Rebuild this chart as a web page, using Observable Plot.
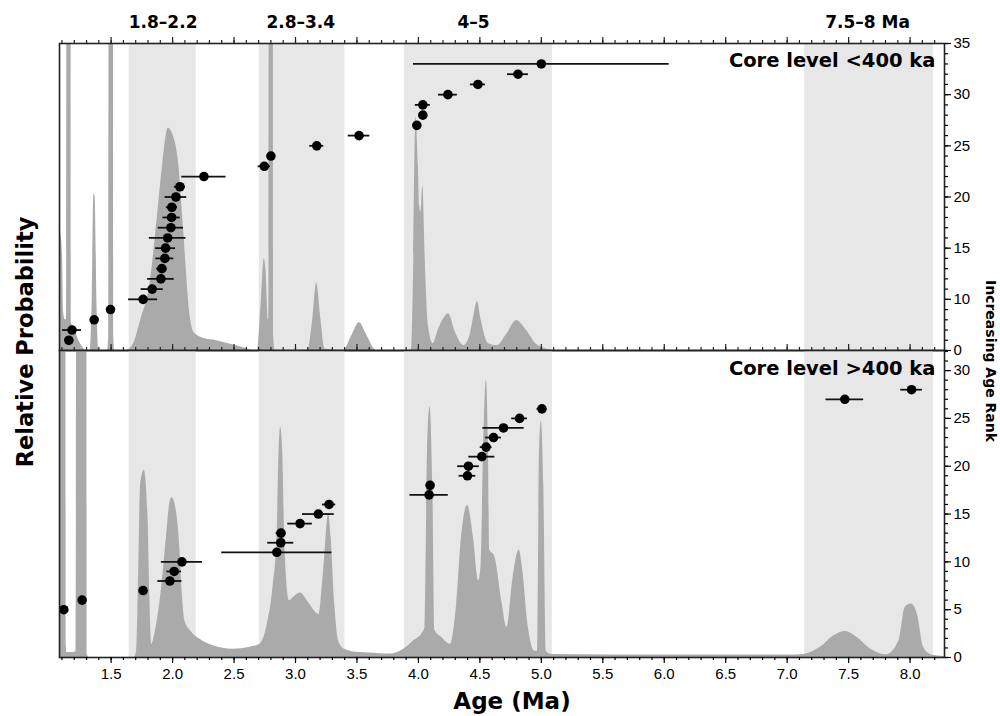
<!DOCTYPE html>
<html><head><meta charset="utf-8">
<script src="https://cdn.jsdelivr.net/npm/d3@7"></script>
<script src="https://cdn.jsdelivr.net/npm/@observablehq/plot@0.6"></script>
<style>
body{margin:0;background:#fff;}
#wrap{position:relative;width:1000px;height:716px;overflow:hidden;background:#fff;}
#top,#bot{position:absolute;left:0;}
#top{top:0;} #bot{top:350px;}
.lab{position:absolute;font-family:"DejaVu Sans",sans-serif;font-weight:bold;color:#000;white-space:nowrap;line-height:1;}
#ylab{left:25px;top:342px;font-size:22.5px;transform:translate(-50%,-50%) rotate(-90deg);}
#rlab{left:991px;top:361px;font-size:14px;transform:translate(-50%,-50%) rotate(90deg);}
#xlab{left:512px;top:701px;font-size:23px;transform:translate(-50%,-50%);}
</style></head><body>
<div id="wrap">
<div id="top"></div><div id="bot"></div>
<div class="lab" id="ylab">Relative Probability</div>
<div class="lab" id="rlab">Increasing Age Rank</div>
<div class="lab" id="xlab">Age (Ma)</div>
</div>
<script>
// ---------- data ----------
const xDomain = [1.08, 8.28];
const bandStart = [1.647, 2.705, 3.886, 7.143];
const bandEnd   = [2.192, 3.402, 5.09, 8.19];
const bandLabel = ["1.8–2.2", "2.8–3.4", "4–5", "7.5–8 Ma"];
const bandLabelAge = [1.923, 3.043, 4.448, 7.654];

const majorX = [1.5, 2.0, 2.5, 3.0, 3.5, 4.0, 4.5, 5.0, 5.5, 6.0, 6.5, 7.0, 7.5, 8.0];
const minorX = d3.range(11, 83).map(d => d / 10);

const topRankTicks  = [5, 10, 15, 20, 25, 30, 35];
const topRankLabels = ["0", "10", "15", "20", "25", "30", "35"];
const topRankMinor  = d3.range(5, 36);
const botRankTicks  = [0, 5, 10, 15, 20, 25, 30];
const botRankMinor  = d3.range(0, 33);

// Core level <400 ka : dated samples
const topRank = [6,7,8,9,10,11,12,13,14,15,16,17,18,19,20,21,22,23,24,25,26,27,28,29,30,31,32,33];
const topAge  = [1.156,1.182,1.362,1.495,1.76,1.834,1.905,1.913,1.937,1.943,1.96,1.986,1.992,1.994,2.027,2.06,2.255,2.746,2.80,3.173,3.517,3.987,4.036,4.036,4.24,4.484,4.81,5.0];
const topErr  = [0,0.077,0,0,0.118,0.09,0.108,0.043,0.073,0.081,0.149,0.103,0.07,0.045,0.088,0.045,0.18,0.05,0,0.057,0.088,0,0,0.061,0.077,0.061,0.085,1.04];

// Core level >400 ka : dated samples
const botRank = [5,6,7,8,9,10,11,12,13,14,15,16,17,18,19,20,21,22,23,24,25,26,27,28];
const botAge  = [1.115,1.264,1.76,1.978,2.013,2.076,2.848,2.88,2.882,3.037,3.186,3.273,4.087,4.095,4.399,4.407,4.516,4.551,4.611,4.692,4.823,5.005,7.469,8.012];
const botErr  = [0,0,0.03,0.098,0.06,0.167,0.448,0.106,0.04,0.1,0.129,0.054,0.156,0,0.068,0.088,0.106,0.048,0.064,0.168,0.064,0.04,0.153,0.088];

// relative probability curves (fraction of panel height; >1 runs off the top)
const topDensAge = [1.08,1.095,1.105,1.115,1.125,1.134,1.138,1.142,1.172,1.176,1.19,1.21,1.24,1.27,1.30,1.33,1.345,1.36,1.37,1.385,1.40,1.47,1.481,1.485,1.517,1.521,1.53,1.60,1.65,1.68,1.74,1.82,1.875,1.92,1.965,2.0,2.05,2.09,2.14,2.18,2.25,2.36,2.47,2.57,2.66,2.69,2.72,2.746,2.76,2.78,2.784,2.787,2.818,2.822,2.835,3.10,3.14,3.172,3.207,3.24,3.39,3.46,3.52,3.58,3.66,3.94,3.946,3.96,3.98,4.0,4.01,4.02,4.036,4.055,4.083,4.12,4.16,4.2,4.245,4.3,4.37,4.42,4.45,4.48,4.51,4.57,4.64,4.72,4.80,4.88,4.96,5.04,5.10,8.28];
const topDensP   = [0.40,0.37,0.30,0.12,0.10,0.10,0.10,3,3,0.09,0.08,0.06,0.03,0.01,0,0,0.15,0.51,0.50,0.15,0,0,0.05,3,3,0.05,0,0,0.005,0.02,0.097,0.227,0.43,0.607,0.724,0.705,0.607,0.39,0.12,0.055,0.04,0.032,0.02,0.01,0,0,0.15,0.30,0.26,0.10,0.1,3,3,0.05,0,0,0.10,0.22,0.10,0.005,0,0.05,0.09,0.05,0,0,0.016,0.24,0.76,0.6,0.47,0.45,0.537,0.30,0.077,0.022,0.065,0.10,0.12,0.06,0.016,0.05,0.11,0.16,0.10,0.022,0.016,0.054,0.098,0.065,0.02,0.005,0,0];

const botDensAge = [1.08,1.128,1.135,1.14,1.20,1.215,1.224,1.299,1.306,1.32,1.69,1.707,1.725,1.74,1.77,1.80,1.815,1.83,1.855,1.909,1.95,1.977,1.996,2.02,2.06,2.08,2.10,2.15,2.22,2.33,2.49,2.63,2.71,2.765,2.82,2.85,2.866,2.88,2.896,2.915,2.95,2.996,3.04,3.104,3.158,3.19,3.23,3.27,3.29,3.32,3.35,3.40,3.525,3.6,3.77,3.88,3.96,4.03,4.055,4.074,4.095,4.117,4.136,4.19,4.26,4.31,4.35,4.40,4.448,4.49,4.51,4.53,4.553,4.57,4.58,4.62,4.68,4.72,4.77,4.82,4.85,4.89,4.95,4.97,4.985,5.0,5.02,5.04,5.08,6.0,7.0,7.135,7.27,7.38,7.475,7.57,7.68,7.81,7.91,7.96,8.01,8.06,8.11,8.17,8.28];
const botDensP   = [3,3,0.04,0.016,0.016,0.02,3,3,0.01,0,0,0.022,0.3,0.565,0.61,0.46,0.2,0.043,0.076,0.22,0.39,0.50,0.52,0.50,0.35,0.2,0.12,0.085,0.06,0.038,0.027,0.033,0.043,0.098,0.24,0.39,0.67,0.75,0.67,0.35,0.185,0.20,0.21,0.18,0.15,0.14,0.29,0.47,0.39,0.17,0.054,0.027,0.016,0.015,0.011,0.027,0.054,0.078,0.1,0.67,0.817,0.565,0.087,0.065,0.043,0.17,0.39,0.495,0.39,0.25,0.30,0.67,0.905,0.67,0.35,0.33,0.18,0.098,0.26,0.35,0.28,0.11,0.02,0.02,0.67,0.77,0.56,0.02,0.01,0.008,0.008,0.01,0.033,0.071,0.085,0.065,0.027,0.009,0.055,0.163,0.174,0.14,0.033,0.009,0.003];

// ---------- tables ----------
const bands = bandStart.map((s, i) => ({s, e: bandEnd[i], t: bandLabel[i], a: bandLabelAge[i]}));
const topPts = topAge.map((a, i) => ({a, r: topRank[i], e: topErr[i]}));
const botPts = botAge.map((a, i) => ({a, r: botRank[i], e: botErr[i]}));
const topDens = topDensAge.map((a, i) => ({a, p: topDensP[i]}));
const botDens = botDensAge.map((a, i) => ({a, p: botDensP[i]}));

// ---------- layout ----------
const W = 1000, ML = 59, MR = 56;
const topH = 350, topMT = 43, topInner = topH - topMT;
const botH = 366, botMB = 59;
const topLo = 5, topHi = 35, botHi = 32.1;
const BAND = "#e7e7e7", DENS = "#aaaaaa", INK = "#111";
const style = {fontFamily: "'Liberation Sans', Arial, sans-serif", fontSize: "15px", background: "transparent", overflow: "visible", color: "#000"};
const boldFont = "DejaVu Sans";

const topPlot = Plot.plot({
  width: W, height: topH, marginLeft: ML, marginRight: MR, marginTop: topMT, marginBottom: 0,
  style,
  x: {domain: xDomain, axis: null},
  y: {domain: [topLo, topHi]},
  marks: [
    Plot.rect(bands, {x1: "s", x2: "e", fill: BAND}),
    Plot.areaY(topDens, {x: "a", y1: topLo, y2: d => topLo + d.p * (topHi - topLo), fill: DENS, curve: "monotone-x", clip: true}),
    Plot.ruleY(topPts.filter(d => d.e > 0), {y: "r", x1: d => d.a - d.e, x2: d => d.a + d.e, stroke: INK, strokeWidth: 1.8}),
    Plot.dot(topPts, {x: "a", y: "r", r: 4.8, fill: "#000"}),
    Plot.frame({stroke: "#222", strokeWidth: 1.6}),
    Plot.tickX(majorX, {insetTop: -6, insetBottom: topInner, stroke: "#222", strokeWidth: 1.2}),
    Plot.tickX(minorX, {insetTop: -3, insetBottom: topInner, stroke: "#222", strokeWidth: 1.2}),
    Plot.tickX(majorX, {insetTop: topInner - 6, stroke: "#222", strokeWidth: 1.2}),
    Plot.tickX(minorX, {insetTop: topInner - 3, stroke: "#222", strokeWidth: 1.2}),
    Plot.axisY({anchor: "right", ticks: topRankTicks, tickSize: 6, tickPadding: 3, label: null, strokeWidth: 1.2,
      tickFormat: d => topRankLabels[topRankTicks.indexOf(d)]}),
    Plot.axisY({anchor: "right", ticks: topRankMinor, tickSize: 3, label: null, strokeWidth: 1.2, tickFormat: () => ""}),
    Plot.text(bands, {x: "a", text: "t", frameAnchor: "top", dy: -28, fontFamily: boldFont, fontWeight: "bold", fontSize: 17, fill: "#000"}),
    Plot.text(["Core level <400 ka"], {text: d => d, frameAnchor: "top-right", textAnchor: "end", lineAnchor: "top", dx: -9, dy: 10,
      fontFamily: boldFont, fontWeight: "bold", fontSize: 19.5, fill: "#000"})
  ]
});

const botPlot = Plot.plot({
  width: W, height: botH, marginLeft: ML, marginRight: MR, marginTop: 0, marginBottom: botMB,
  style,
  x: {domain: xDomain},
  y: {domain: [0, botHi]},
  marks: [
    Plot.rect(bands, {x1: "s", x2: "e", fill: BAND}),
    Plot.areaY(botDens, {x: "a", y1: 0, y2: d => d.p * botHi, fill: DENS, curve: "monotone-x", clip: true}),
    Plot.ruleY(botPts.filter(d => d.e > 0), {y: "r", x1: d => d.a - d.e, x2: d => d.a + d.e, stroke: INK, strokeWidth: 1.8}),
    Plot.dot(botPts, {x: "a", y: "r", r: 4.8, fill: "#000"}),
    Plot.frame({stroke: "#222", strokeWidth: 1.6}),
    Plot.axisX({anchor: "bottom", ticks: majorX, tickSize: 6, tickPadding: 5, label: null, strokeWidth: 1.2, tickFormat: d3.format(".1f")}),
    Plot.axisX({anchor: "bottom", ticks: minorX, tickSize: 3, label: null, strokeWidth: 1.2, tickFormat: () => ""}),
    Plot.axisY({anchor: "right", ticks: botRankTicks, tickSize: 6, tickPadding: 3, label: null, strokeWidth: 1.2}),
    Plot.axisY({anchor: "right", ticks: botRankMinor, tickSize: 3, label: null, strokeWidth: 1.2, tickFormat: () => ""}),
    Plot.text(["Core level >400 ka"], {text: d => d, frameAnchor: "top-right", textAnchor: "end", lineAnchor: "top", dx: -9, dy: 11,
      fontFamily: boldFont, fontWeight: "bold", fontSize: 19.5, fill: "#000"})
  ]
});

document.getElementById("top").appendChild(topPlot);
document.getElementById("bot").appendChild(botPlot);
</script>
</body></html>
